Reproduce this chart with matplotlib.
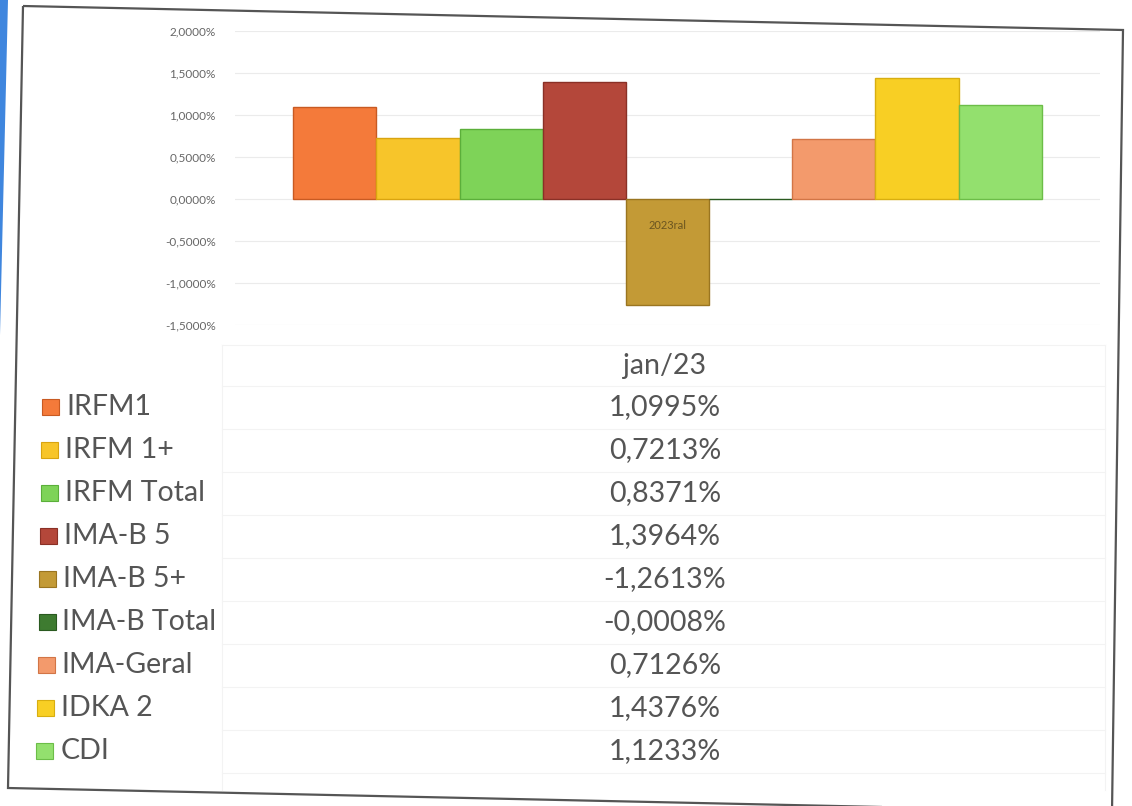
import matplotlib
matplotlib.use("Agg")
import matplotlib.pyplot as plt
from matplotlib.patches import Polygon, Rectangle
from matplotlib.ticker import FuncFormatter

plt.rcParams['font.family'] = ['Lato', 'DejaVu Sans']

series = ["IRFM1", "IRFM 1+", "IRFM Total", "IMA-B 5", "IMA-B 5+",
          "IMA-B Total", "IMA-Geral", "IDKA 2", "CDI"]
values = [1.0995, 0.7213, 0.8371, 1.3964, -1.2613, -0.0008, 0.7126, 1.4376, 1.1233]
value_labels = ["1,0995%", "0,7213%", "0,8371%", "1,3964%", "-1,2613%",
                "-0,0008%", "0,7126%", "1,4376%", "1,1233%"]
colors = ["#F47A3A", "#F7C52A", "#7ED358", "#B4473A", "#C39A36",
          "#3E7B30", "#F39A6C", "#F8CF24", "#93E06E"]
edge_colors = ["#C85A22", "#D9A410", "#5BAF3A", "#8A3026", "#9A7520",
               "#2A5A20", "#D27546", "#D8AE10", "#6CBD48"]
category = "jan/23"
yticks = [-1.5, -1.0, -0.5, 0.0, 0.5, 1.0, 1.5, 2.0]

W, H = 1132, 806
fig = plt.figure(figsize=(W / 100, H / 100), dpi=100)
fig.patch.set_facecolor("white")

def fx(px):
    return px / W

def fy(py):
    return 1 - py / H

# scan artifacts: blue strip and page border
fig.patches.append(Polygon([(fx(0), fy(0)), (fx(8), fy(0)), (fx(0), fy(335))],
                           closed=True, transform=fig.transFigure,
                           facecolor="#3F86DE", edgecolor="none"))
fig.patches.append(Polygon([(fx(23), fy(6)), (fx(1123), fy(30)),
                            (fx(1112), fy(812)), (fx(8), fy(788))],
                           closed=True, transform=fig.transFigure,
                           facecolor="none", edgecolor="#555555", lw=1.6))

# chart axes
ax_l, ax_r = 235, 1100
ax_t, ax_b = 31, 325
ax = fig.add_axes([fx(ax_l), fy(ax_b), fx(ax_r - ax_l), (ax_b - ax_t) / H])
ax.set_facecolor("none")
n = len(series)
xs = [i - (n - 1) / 2 for i in range(n)]
ax.bar(xs, values, width=1.0, color=colors, edgecolor=edge_colors, linewidth=1.0)
ax.set_xlim(-5.2, 5.2)
ax.set_ylim(-1.5, 2.0)
ax.set_yticks(yticks)
ax.yaxis.set_major_formatter(FuncFormatter(lambda v, p: f"{v:.4f}%".replace(".", ",")))
ax.tick_params(axis="y", labelsize=8.5, labelcolor="#666666", length=0, pad=14)
ax.set_xticks([])
for s in ax.spines.values():
    s.set_visible(False)
ax.grid(axis="y", color="#EBEBEB", lw=0.8)
ax.set_axisbelow(True)
ax.text(0, -0.32, "2023ral", ha="center", va="center", fontsize=8, color="#6B5520")

# data table
tab_l, tab_r = 222, 1105
tab_t, tab_b = 345, 790
for yy in [tab_t] + [386 + 43 * i for i in range(10)]:
    fig.add_artist(plt.Line2D([fx(tab_l), fx(tab_r)], [fy(yy), fy(yy)],
                              transform=fig.transFigure, color="#F3F3F3", lw=0.8))
for xx in [tab_l, tab_r]:
    fig.add_artist(plt.Line2D([fx(xx), fx(xx)], [fy(tab_t), fy(tab_b)],
                              transform=fig.transFigure, color="#F3F3F3", lw=0.8))

val_x = 665
fs = 20.5
fig.text(fx(val_x), fy(366), category, ha="center", va="center",
         fontsize=fs, color="#555555")
for i, (name, lab, c, ec) in enumerate(zip(series, value_labels, colors, edge_colors)):
    yc = 407 + 43 * i
    fig.patches.append(Rectangle((fx(42 - i * 0.7), fy(yc + 8)), 17 / W, 16 / H,
                                 transform=fig.transFigure, facecolor=c,
                                 edgecolor=ec, lw=0.8))
    fig.text(fx(66 - i * 0.7), fy(yc), name, ha="left", va="center",
             fontsize=fs, color="#555555")
    fig.text(fx(val_x), fy(yc), lab, ha="center", va="center",
             fontsize=fs, color="#555555")

fig.savefig("out.png", dpi=100, facecolor="white")
